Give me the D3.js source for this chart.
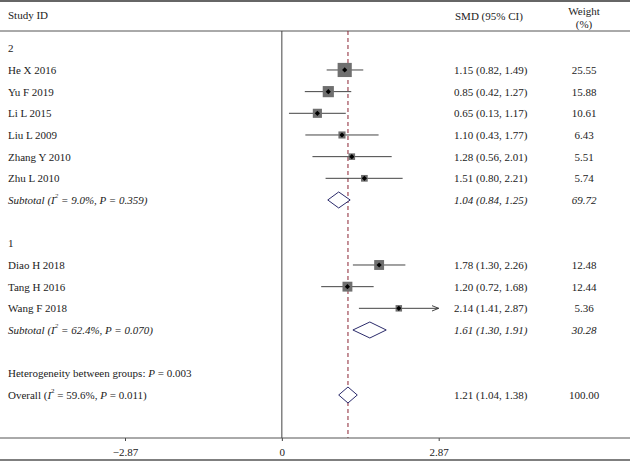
<!DOCTYPE html>
<html>
<head>
<meta charset="utf-8">
<script src="https://cdn.jsdelivr.net/npm/d3@7"></script>
<style>
  body { margin: 0; background: #fff; }
  text { font-family: "Liberation Serif", "DejaVu Serif", serif; font-size: 11px; fill: #222; }
</style>
</head>
<body>
<svg id="forest" width="630" height="461"></svg>
<script>
// study level data
const studies = ["He X 2016", "Yu F 2019", "Li L 2015", "Liu L 2009", "Zhang Y 2010", "Zhu L 2010",
                 "Diao H 2018", "Tang H 2016", "Wang F 2018"];
const studyGroup = ["2", "2", "2", "2", "2", "2", "1", "1", "1"];
const smd = [1.15, 0.85, 0.65, 1.10, 1.28, 1.51, 1.78, 1.20, 2.14];
const ciLow = [0.82, 0.42, 0.13, 0.43, 0.56, 0.80, 1.30, 0.72, 1.41];
const ciHigh = [1.49, 1.27, 1.17, 1.77, 2.01, 2.21, 2.26, 1.68, 2.87];
const weight = [25.55, 15.88, 10.61, 6.43, 5.51, 5.74, 12.48, 12.44, 5.36];

// subgroup data
const subgroups = ["2", "1"];
const subSmd = [1.04, 1.61];
const subLow = [0.84, 1.30];
const subHigh = [1.25, 1.91];
const subWeight = [69.72, 30.28];
const subI2 = ["9.0%", "62.4%"];
const subP = ["0.359", "0.070"];

// overall
const overallSmd = 1.21;
const overallLow = 1.04;
const overallHigh = 1.38;
const overallI2 = "59.6%";
const overallP = "0.011";
const betweenP = "0.003";

const xTicks = [-2.87, 0, 2.87];
const xTickLabels = ["\u22122.87", "0", "2.87"];

const drawForest = ()=>{
    let svg = d3.select("#forest");
    let W = +svg.attr("width");

    let x = d3.scaleLinear().domain([-2.87, 2.87]).range([125, 438.7]);
    let y = d3.scaleLinear().domain([0, 16]).range([48.3, 395]);
    let axisY = 438;
    let top = 31;

    // build row list
    let rows = [];
    let r = 0;
    subgroups.forEach((g, gi)=>{
        rows.push({type: "group", label: g, row: r++});
        studies.forEach((s, i)=>{
            if (studyGroup[i] === g) {
                rows.push({type: "study", label: s, est: smd[i], lo: ciLow[i], hi: ciHigh[i], w: weight[i], row: r++});
            }
        });
        rows.push({type: "sub", i2: subI2[gi], p: subP[gi], est: subSmd[gi], lo: subLow[gi], hi: subHigh[gi], w: subWeight[gi], row: r++});
        r++;
    });
    rows.push({type: "het", row: r++});
    rows.push({type: "overall", est: overallSmd, lo: overallLow, hi: overallHigh, w: 100, row: r++});

    // frame lines
    svg.append("line").attr("x1", 0).attr("x2", W).attr("y1", 1).attr("y2", 1)
        .attr("stroke", "#666").attr("stroke-width", 2);
    svg.append("line").attr("x1", 0).attr("x2", W).attr("y1", top).attr("y2", top)
        .attr("stroke", "#555").attr("stroke-width", 1);
    svg.append("line").attr("x1", 0).attr("x2", W).attr("y1", 460).attr("y2", 460)
        .attr("stroke", "#555").attr("stroke-width", 1.5);

    // header
    svg.append("text").attr("x", 8).attr("y", 15).attr("dominant-baseline", "central").text("Study ID");
    svg.append("text").attr("x", 455).attr("y", 15.5).attr("dominant-baseline", "central").text("SMD (95% CI)");
    svg.append("text").attr("x", 584).attr("y", 11).attr("text-anchor", "middle").attr("dominant-baseline", "central").text("Weight");
    svg.append("text").attr("x", 584).attr("y", 24).attr("text-anchor", "middle").attr("dominant-baseline", "central").text("(%)");

    // null line
    svg.append("line").attr("x1", x(0)).attr("x2", x(0)).attr("y1", top).attr("y2", axisY)
        .attr("stroke", "#444").attr("stroke-width", 1);

    // overall dashed line
    svg.append("line").attr("x1", x(overallSmd)).attr("x2", x(overallSmd)).attr("y1", top).attr("y2", axisY)
        .attr("stroke", "#8b2232").attr("stroke-width", 1).attr("stroke-dasharray", "4,3");

    // axis
    let xAxis = d3.axisBottom(x).tickValues(xTicks).tickSize(3).tickFormat((d, i)=>xTickLabels[i]);
    let ax = svg.append("g").attr("transform", "translate(0," + axisY + ")").call(xAxis);
    ax.select(".domain").remove();
    ax.selectAll(".tick line").attr("stroke", "#444");
    ax.selectAll(".tick text").attr("y", 14).attr("dominant-baseline", "central").attr("dy", null)
        .style("font-family", "'Liberation Serif', serif").style("font-size", "11px").attr("fill", "#222");
    svg.append("line").attr("x1", 0).attr("x2", W).attr("y1", axisY).attr("y2", axisY)
        .attr("stroke", "#555").attr("stroke-width", 1);

    svg.append("defs").append("marker")
        .attr("id", "arrow").attr("viewBox", "0 0 10 10").attr("refX", 10).attr("refY", 5)
        .attr("markerWidth", 7).attr("markerHeight", 7).attr("orient", "auto")
        .append("path").attr("d", "M0,1 L10,5 L0,9").attr("fill", "none").attr("stroke", "#333").attr("stroke-width", 1.3);

    let g = svg.append("g");

    rows.forEach((d)=>{
        let cy = y(d.row);
        if (d.type === "group") {
            g.append("text").attr("x", 8).attr("y", cy).attr("dominant-baseline", "central").text(d.label);
        }
        if (d.type === "study") {
            g.append("text").attr("x", 8).attr("y", cy).attr("dominant-baseline", "central").text(d.label);
            let clipped = d.hi >= x.domain()[1];
            g.append("line").attr("x1", x(d.lo)).attr("x2", x(Math.min(d.hi, x.domain()[1])))
                .attr("y1", cy).attr("y2", cy).attr("stroke", "#444").attr("stroke-width", 1)
                .attr("marker-end", clipped ? "url(#arrow)" : null);
            let side = 2.8 * Math.sqrt(d.w);
            g.append("rect").attr("x", x(d.est) - side / 2).attr("y", cy - side / 2)
                .attr("width", side).attr("height", side).attr("fill", "#6f6f6f");
            let m = 2.6;
            g.append("path").attr("d", "M" + x(d.est) + "," + (cy - m) + " L" + (x(d.est) + m) + "," + cy +
                " L" + x(d.est) + "," + (cy + m) + " L" + (x(d.est) - m) + "," + cy + "Z").attr("fill", "#000");
        }
        if (d.type === "sub") {
            let t = g.append("text").attr("x", 8).attr("y", cy).attr("dominant-baseline", "central").attr("font-style", "italic");
            t.append("tspan").text("Subtotal (I");
            t.append("tspan").attr("baseline-shift", "super").attr("font-size", "7px").text("2");
            t.append("tspan").text(" = " + d.i2 + ", P = " + d.p + ")");
        }
        if (d.type === "het") {
            let t = g.append("text").attr("x", 8).attr("y", cy).attr("dominant-baseline", "central");
            t.append("tspan").text("Heterogeneity between groups: ");
            t.append("tspan").attr("font-style", "italic").text("P");
            t.append("tspan").text(" = " + betweenP);
        }
        if (d.type === "overall") {
            let t = g.append("text").attr("x", 8).attr("y", cy).attr("dominant-baseline", "central");
            t.append("tspan").text("Overall (");
            t.append("tspan").attr("font-style", "italic").text("I");
            t.append("tspan").attr("baseline-shift", "super").attr("font-size", "7px").text("2");
            t.append("tspan").text(" = " + overallI2 + ", ");
            t.append("tspan").attr("font-style", "italic").text("P");
            t.append("tspan").text(" = " + overallP + ")");
        }
        if (d.type === "sub" || d.type === "overall") {
            let h = 8;
            g.append("path").attr("d", "M" + x(d.lo) + "," + cy + " L" + x(d.est) + "," + (cy - h) +
                " L" + x(d.hi) + "," + cy + " L" + x(d.est) + "," + (cy + h) + "Z")
                .attr("fill", "#fff").attr("stroke", "#2b2b6b").attr("stroke-width", 1);
        }
        if (d.est !== undefined) {
            let italic = d.type === "sub" ? "italic" : null;
            g.append("text").attr("x", 454).attr("y", cy).attr("dominant-baseline", "central").attr("font-style", italic)
                .text(d.est.toFixed(2) + " (" + d.lo.toFixed(2) + ", " + d.hi.toFixed(2) + ")");
            g.append("text").attr("x", 584).attr("y", cy).attr("text-anchor", "middle").attr("dominant-baseline", "central")
                .attr("font-style", italic).text(d.w.toFixed(2));
        }
    });
}

window.onload = function(){
    drawForest();
}
</script>
</body>
</html>
